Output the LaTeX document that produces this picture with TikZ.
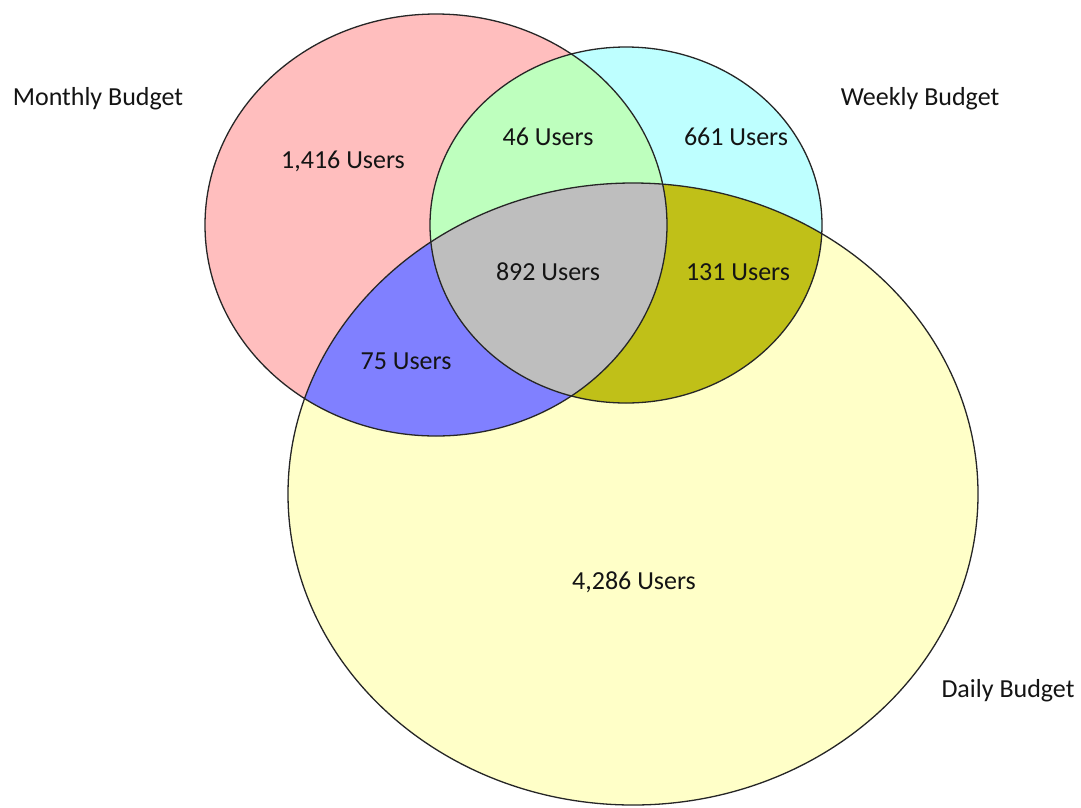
\documentclass[tikz,border=0pt]{standalone}
\usepackage{fontspec}
\setmainfont{Carlito}
\definecolor{cpink}{RGB}{255,190,190}
\definecolor{ccyan}{RGB}{190,255,255}
\definecolor{cyell}{RGB}{255,255,200}
\definecolor{cgreen}{RGB}{190,255,190}
\definecolor{cblue}{RGB}{128,128,255}
\definecolor{colive}{RGB}{192,192,24}
\definecolor{cgray}{RGB}{190,190,190}
\definecolor{ctext}{RGB}{20,20,20}
\tikzset{
  lbl/.style={font=\fontsize{26}{30}\selectfont, text=ctext, inner sep=0pt},
  outline/.style={draw=black!85, line width=1.3pt}
}
\newcommand{\Mpath}{(436,225) ellipse [x radius=231pt, y radius=211pt]}
\newcommand{\Wpath}{(626,225) ellipse [x radius=196pt, y radius=178pt]}
\newcommand{\Dpath}{(633,494) ellipse [x radius=345pt, y radius=311pt]}
\begin{document}
\begin{tikzpicture}[x=1pt,y=-1pt]
\useasboundingbox (0,0) rectangle (1081,807);
\fill[white] (0,0) rectangle (1081,807);
% base fills
\fill[cpink] \Mpath;
\fill[ccyan] \Wpath;
\fill[cyell] \Dpath;
% pairwise overlaps
\begin{scope}\clip \Mpath; \fill[cgreen] \Wpath; \end{scope}
\begin{scope}\clip \Mpath; \fill[cblue] \Dpath; \end{scope}
\begin{scope}\clip \Wpath; \fill[colive] \Dpath; \end{scope}
\begin{scope}\clip \Mpath; \clip \Wpath; \fill[cgray] \Dpath; \end{scope}
% outlines
\draw[outline] \Mpath;
\draw[outline] \Wpath;
\draw[outline] \Dpath;
% labels
\node[lbl] (monthly) at (98,99) {Monthly Budget};
\node[lbl] (weekly) at (920,99) {Weekly Budget};
\node[lbl] (daily) at (1008,691) {Daily Budget};
\node[lbl] (mo) at (343,161) {1,416 Users};
\node[lbl] (mw) at (548,137) {46 Users};
\node[lbl] (wo) at (736,137) {661 Users};
\node[lbl] (mwd) at (548,272) {892 Users};
\node[lbl] (wd) at (738,272) {131 Users};
\node[lbl] (md) at (406,361) {75 Users};
\node[lbl] (do) at (634,582) {4,286 Users};
\end{tikzpicture}
\end{document}
